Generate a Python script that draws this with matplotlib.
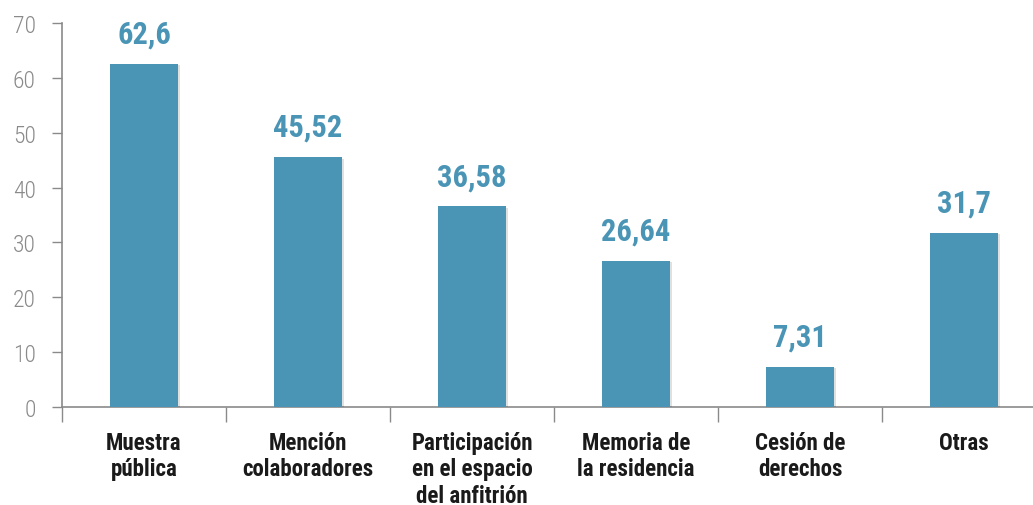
import matplotlib.pyplot as plt
import matplotlib.patheffects as pe
import numpy as np

# ── data ──────────────────────────────────────────────────────────────────────
categories = ["Muestra\npública", "Mención\ncolaboradores",
              "Participación\nen el espacio\ndel anfitrión",
              "Memoria de\nla residencia", "Cesión de\nderechos", "Otras"]
values     = [62.6, 45.52, 36.58, 26.64, 7.31, 31.7]
labels     = ["62,6", "45,52", "36,58", "26,64", "7,31", "31,7"]
yticks     = [0, 10, 20, 30, 40, 50, 60, 70]

BAR   = "#4a94b5"
GREY  = "#8a8a8a"
FONT  = ["Roboto Condensed", "DejaVu Sans"]

# ── plot ──────────────────────────────────────────────────────────────────────
fig = plt.figure(figsize=(10.33, 5.06), dpi=100)
ax  = fig.add_axes([0.060, 0.1937, 0.940, 0.7589])

x = np.arange(len(values))
bars = ax.bar(x, values, width=0.41, color=BAR, zorder=3)
for b in bars:
    b.set_path_effects([pe.SimplePatchShadow(offset=(1.5, -1), shadow_rgbFace="#000000", alpha=0.12),
                        pe.Normal()])

for xi, v, lab in zip(x, values, labels):
    ax.annotate(lab, (xi, v), xytext=(0, 11), textcoords="offset points",
                ha="center", va="bottom", color=BAR, fontsize=22,
                fontweight="bold", family=FONT)

ax.set_xlim(-0.5, 5.42)
ax.set_ylim(0, 70)

ax.set_yticks(yticks)
ax.set_yticklabels([str(t) for t in yticks], family=FONT, fontsize=17,
                   fontweight="light", color=GREY)
ax.tick_params(axis="y", length=7, width=1, color=GREY, pad=12)

ax.set_xticks(x)
ax.set_xticklabels(categories, family=FONT, fontsize=16.5, fontweight="bold",
                   color="#1a1a1a", linespacing=1.2, va="top")
ax.tick_params(axis="x", which="major", length=0, pad=17)
ax.set_xticks(np.arange(-0.5, 5.5, 1), minor=True)
ax.tick_params(axis="x", which="minor", length=11, width=1, color=GREY, direction="out")

for s in ["top", "right"]:
    ax.spines[s].set_visible(False)
for s in ["left", "bottom"]:
    ax.spines[s].set_color(GREY)
    ax.spines[s].set_linewidth(1.2)

plt.savefig("out.png", dpi=100)
